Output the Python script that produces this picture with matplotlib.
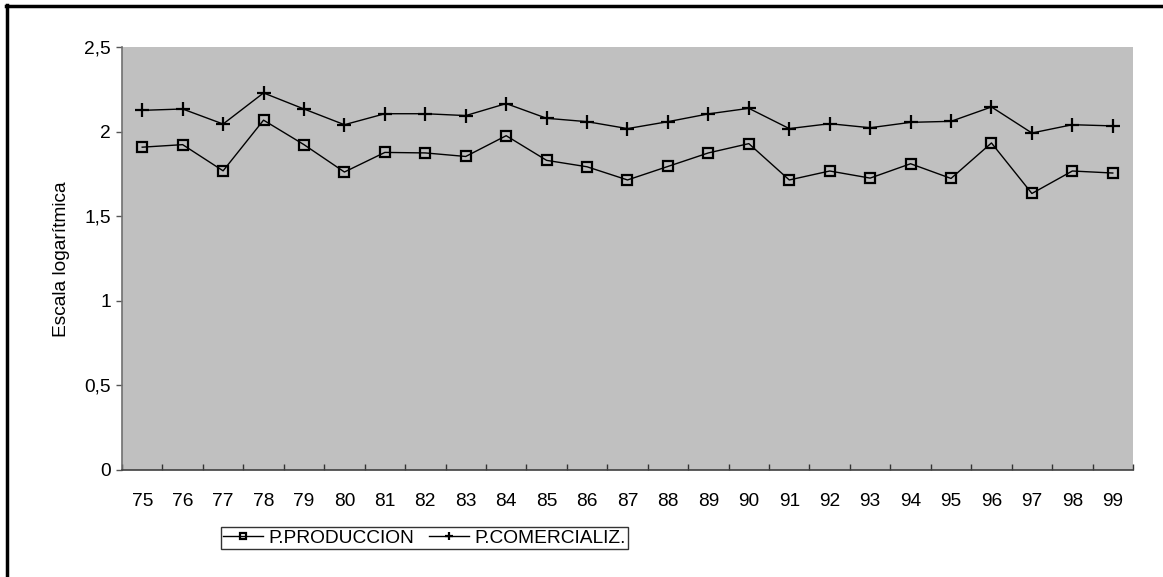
import matplotlib
matplotlib.use("Agg")
import matplotlib.pyplot as plt
from matplotlib.lines import Line2D
import numpy as np

plt.rcParams["font.family"] = ["Liberation Sans", "DejaVu Sans"]

years = ["75", "76", "77", "78", "79", "80", "81", "82", "83", "84", "85", "86", "87",
         "88", "89", "90", "91", "92", "93", "94", "95", "96", "97", "98", "99"]
produccion = [1.91, 1.925, 1.77, 2.07, 1.925, 1.763, 1.879, 1.876, 1.855, 1.978, 1.832,
              1.794, 1.716, 1.796, 1.876, 1.931, 1.716, 1.769, 1.727, 1.812, 1.725,
              1.935, 1.636, 1.769, 1.757]
comercializ = [2.128, 2.136, 2.047, 2.231, 2.136, 2.043, 2.108, 2.108, 2.097, 2.168, 2.081,
               2.061, 2.020, 2.061, 2.107, 2.140, 2.020, 2.049, 2.025, 2.057, 2.063,
               2.148, 1.994, 2.043, 2.036]
y_ticks = [0, 0.5, 1, 1.5, 2, 2.5]
y_labels = ["0", "0,5", "1", "1,5", "2", "2,5"]

FS = 13.8

fig = plt.figure(figsize=(11.63, 5.77), dpi=100)
ax = fig.add_axes([0.1049, 0.1856, 0.8693, 0.7321])
ax.set_facecolor("#c0c0c0")

x = np.arange(len(years))
ax.plot(x, produccion, color="black", lw=1, marker="s", ms=7, mfc="none",
        mec="black", mew=1.6, label="P.PRODUCCION")
ax.plot(x, comercializ, color="black", lw=1, marker="+", ms=9.5, mew=1.6,
        label="P.COMERCIALIZ.")

ax.set_xlim(-0.5, len(years) - 0.5)
ax.set_ylim(0, 2.5)
ax.set_xticks(x)
ax.set_xticklabels(years, fontsize=FS)
ax.set_xticks(np.arange(len(years) + 1) - 0.5, minor=True)
ax.tick_params(axis="x", which="major", length=0, pad=16.5)
ax.tick_params(axis="x", which="minor", direction="in", length=4, width=1, color="#333333")
ax.set_yticks(y_ticks)
ax.set_yticklabels(y_labels, fontsize=FS)
ax.tick_params(axis="y", direction="out", length=4, width=1, color="#555555", pad=4)
ax.set_ylabel("Escala logarítmica", fontsize=FS, labelpad=10)

for side in ("top", "right"):
    ax.spines[side].set_visible(False)
ax.spines["left"].set_color("#707070")
ax.spines["bottom"].set_color("#404040")
ax.spines["left"].set_linewidth(1.2)
ax.spines["bottom"].set_linewidth(1.2)

leg = fig.legend(loc="center", bbox_to_anchor=(0.365, 0.0676), ncol=2, fontsize=FS,
                 frameon=True, fancybox=False, handlelength=2.05, handletextpad=0.3,
                 columnspacing=0.8, borderpad=0.12, borderaxespad=0, markerscale=0.65)
leg.get_frame().set_edgecolor("black")
leg.get_frame().set_linewidth(1.0)

# outer frame: left and top edges only
fig.add_artist(Line2D([0.0064, 0.0064], [0, 0.9905], transform=fig.transFigure,
                      color="black", lw=2.5))
fig.add_artist(Line2D([0.0055, 1.0], [0.9895, 0.9895], transform=fig.transFigure,
                      color="black", lw=2.5))

fig.savefig("out.png", dpi=100)
